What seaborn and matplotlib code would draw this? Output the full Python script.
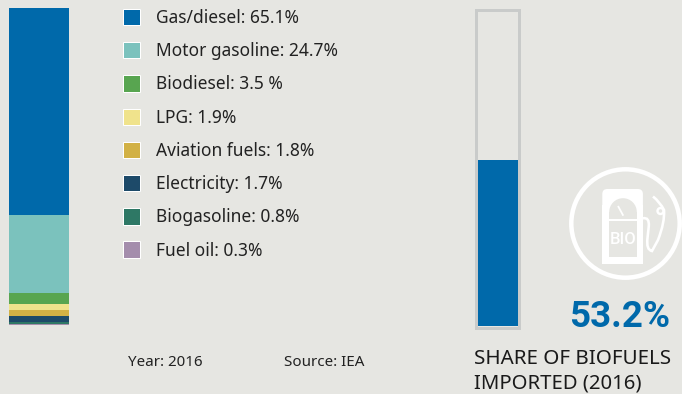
import matplotlib
matplotlib.use("Agg")
import matplotlib.pyplot as plt
from matplotlib.patches import Rectangle, Circle, FancyBboxPatch, PathPatch, Wedge
from matplotlib.path import Path
import seaborn as sns

categories = ["Gas/diesel", "Motor gasoline", "Biodiesel", "LPG", "Aviation fuels",
              "Electricity", "Biogasoline", "Fuel oil"]
values = [65.1, 24.7, 3.5, 1.9, 1.8, 1.7, 0.8, 0.3]
value_labels = ["65.1%", "24.7%", "3.5 %", "1.9%", "1.8%", "1.7%", "0.8%", "0.3%"]
colors = ["#0069AA", "#7BC2BD", "#58A550", "#F0E38C", "#D2B145", "#1D4A69", "#2E7865", "#A48DAC"]
imported_share = 53.2
imported_label = "53.2%"
caption = ["SHARE OF BIOFUELS", "IMPORTED (2016)"]
notes = ["Year: 2016", "Source: IEA"]

BG = "#E6E6E2"
BLUE = "#0069AA"
FONT = "Noto Sans"
W, H = 682, 394

sns.set_theme(style="white", rc={"figure.facecolor": BG, "axes.facecolor": "none", "font.family": FONT})
fig = plt.figure(figsize=(W / 100, H / 100), dpi=100)


def px_axes(x0, y0, x1, y1):
    return fig.add_axes([x0 / W, 1 - y1 / H, (x1 - x0) / W, (y1 - y0) / H])


# Stacked bar of the shares, stacked from the top down
ax = px_axes(9, 8, 69, 325)
bottom = 0.0
for name, v, c in zip(categories, values, colors):
    sns.barplot(x=[name[:0]], y=[v], bottom=bottom, color=c, saturation=1, width=1, linewidth=0, ax=ax)
    bottom += v
ax.set_xlim(-0.5, 0.5)
ax.set_ylim(bottom, 0)
ax.set_axis_off()

# Imported share gauge
ax2 = px_axes(477, 14, 518, 326)
sns.barplot(x=[""], y=[imported_share], color=BLUE, saturation=1, width=1, linewidth=0, ax=ax2)
ax2.set_xlim(-0.5, 0.5)
ax2.set_ylim(0, 100)
ax2.set_axis_off()

# Overlay in pixel coordinates for legend, text and icon
ov = fig.add_axes([0, 0, 1, 1], zorder=5)
ov.set_xlim(0, W)
ov.set_ylim(H, 0)
ov.set_axis_off()
lw1 = 0.72

ov.add_patch(Rectangle((476, 9.5), 42.8, 318, fill=False, ec="#C9CBCA", lw=3 * lw1))

rows = [16.7, 49.7, 83, 116.7, 149.5, 182.8, 216, 249.3]
for yc, name, lab, c in zip(rows, categories, value_labels, colors):
    ov.add_patch(Rectangle((123, yc - 8), 16.5, 16.5, fc=c, ec="white", lw=1 * lw1))
    ov.text(155.5, yc + 1.2, f"{name}: {lab}", fontsize=12.5, color="#222222", va="center", ha="left")

ov.text(128.5, 363, notes[0], fontsize=10.9, color="#222222", va="center")
ov.text(284.5, 363, notes[1], fontsize=10.9, color="#222222", va="center")

ov.text(670.5, 317, imported_label, fontsize=26.5, fontweight="bold", family="Roboto", color=BLUE, va="center", ha="right")
ov.text(474, 358.5, caption[0], fontsize=14.8, color="#1a1a1a", va="center")
ov.text(474, 383, caption[1], fontsize=14.6, color="#1a1a1a", va="center")

# Pump icon
ov.add_patch(Circle((625.5, 223.5), 54.2, fill=False, ec="white", lw=4.5 * lw1))
ov.add_patch(FancyBboxPatch((602.3, 189), 40.6, 40, boxstyle="round,pad=0,rounding_size=5", fc="white", ec="none"))
ov.add_patch(Rectangle((602.3, 205), 40.6, 58.5, fc="white", ec="none"))
ov.add_patch(Wedge((623, 212), 13.8, 180, 360, fc=BG, ec="none"))
ov.add_patch(Rectangle((609.2, 211.5), 27.6, 7, fc=BG, ec="none"))
ov.add_patch(Rectangle((609.2, 221), 28, 35.5, fc=BG, ec="none"))
ov.plot([618, 623.3], [206, 215.7], color="white", lw=1.8 * lw1, solid_capstyle="butt")
ov.text(622.8, 239.5, "BIO", fontsize=12, fontweight="medium", family="Roboto", color="white", va="center", ha="center")
hose = Path(
    [(643, 218.3), (649.5, 217), (648.8, 226), (647.5, 238), (646, 250), (652, 251),
     (658, 240), (665, 222), (664, 210), (660, 202), (653, 196.5)],
    [Path.MOVETO, Path.CURVE3, Path.CURVE3, Path.LINETO, Path.CURVE3, Path.CURVE3,
     Path.LINETO, Path.CURVE3, Path.CURVE3, Path.CURVE3, Path.CURVE3],
)
ov.add_patch(PathPatch(hose, fill=False, ec="white", lw=2.6 * lw1))
ov.add_patch(Circle((660.5, 211), 3, fill=False, ec="white", lw=2.4 * lw1))

fig.savefig("out.png", dpi=100, facecolor=BG)
